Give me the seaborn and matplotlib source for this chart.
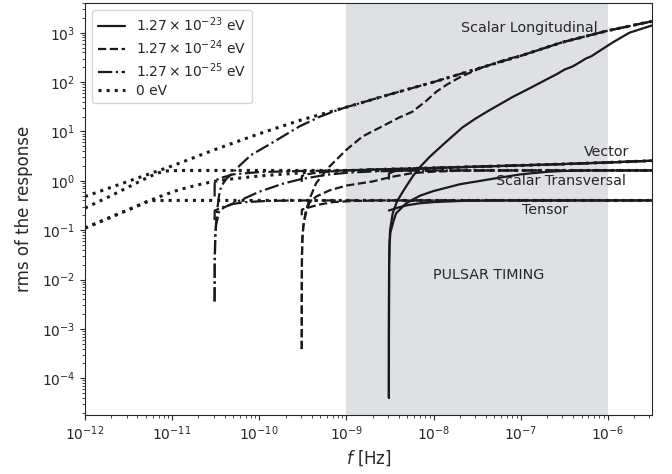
import numpy as np
import pandas as pd
import seaborn as sns
import matplotlib.pyplot as plt

# legend labels, one per graviton mass
mass_labels = [r'$1.27\times10^{-23}$ eV', r'$1.27\times10^{-24}$ eV',
               r'$1.27\times10^{-25}$ eV', '0 eV']

# m = 1.27e-23 eV (solid)
f_sl_23 = [3.07e-9, 3.075e-9, 3.09e-9, 3.12e-9, 3.17e-9, 3.4e-9, 3.8e-9, 4.3e-9, 4.85e-9, 5.8e-9,
           6.9e-9, 9.1e-9, 1.3e-8, 1.65e-8, 2.14e-8, 3e-8, 4.4e-8, 8.1e-8, 1.27e-7, 1.96e-7,
           2.6e-7, 3.2e-7, 3.9e-7, 4.7e-7, 5.6e-7, 6.5e-7, 7.5e-7, 1.13e-6, 1.77e-6, 3.2e-6]
rms_sl_23 = [4e-5, 1e-3, 0.02, 0.05, 0.1, 0.22, 0.38, 0.55, 0.77, 1.25,
             1.85, 3.1, 5.5, 8, 12, 18, 27, 50, 75, 112,
             145, 180, 205, 248, 300, 335, 395, 630, 1000, 1400]
f_st_23 = [3.07e-9, 3.075e-9, 3.09e-9, 3.12e-9, 3.2e-9, 3.5e-9, 3.72e-9, 4.85e-9, 7e-9, 1e-8,
           2e-8, 5.26e-8, 1e-7, 2e-7, 3.04e-7, 6e-7, 3.2e-6]
rms_st_23 = [4e-5, 1e-3, 0.02, 0.05, 0.09, 0.16, 0.22, 0.35, 0.5, 0.62,
             0.85, 1.13, 1.35, 1.52, 1.58, 1.62, 1.62]
f_v_23 = [3.07e-9, 3.08e-9, 3.5e-9, 5e-9, 1e-8, 3e-8, 1e-7, 3e-7, 1e-6, 3.2e-6]
rms_v_23 = [1.1, 1.4, 1.55, 1.7, 1.82, 1.93, 2.05, 2.18, 2.35, 2.55]
f_t_23 = [3.07e-9, 4e-9, 5e-9, 6.9e-9, 1e-8, 2e-8, 5e-8, 3.2e-6]
rms_t_23 = [0.25, 0.29, 0.32, 0.35, 0.37, 0.39, 0.4, 0.4]

# m = 1.27e-24 eV (dashed)
f_sl_24 = [3.07e-10, 3.075e-10, 3.09e-10, 3.12e-10, 3.2e-10, 3.38e-10, 3.76e-10, 4.5e-10, 6.4e-10, 1e-9,
           1.53e-9, 2.2e-9, 3.1e-9, 4e-9, 5.7e-9, 8.3e-9, 1.08e-8, 1.41e-8, 2e-8, 3.4e-8,
           6.9e-8, 1e-7, 3e-7, 1e-6, 3.2e-6]
rms_sl_24 = [3.9e-4, 5e-3, 0.03, 0.07, 0.12, 0.22, 0.42, 0.9, 1.95, 4.25,
             7.9, 11, 15, 19, 25, 42, 64, 88, 125, 190,
             290, 340, 640, 1100, 1700]
f_st_24 = [3.07e-10, 3.075e-10, 3.09e-10, 3.12e-10, 3.2e-10, 3.47e-10, 3.76e-10, 4.5e-10, 6.4e-10, 1e-9,
           2e-9, 3.3e-9, 5.7e-9, 1e-8, 2e-8, 4e-8, 3.2e-6]
rms_st_24 = [3.9e-4, 5e-3, 0.03, 0.06, 0.12, 0.24, 0.36, 0.48, 0.64, 0.8,
             0.97, 1.2, 1.43, 1.53, 1.6, 1.62, 1.62]
f_v_24 = [3.07e-10, 3.08e-10, 3.5e-10, 5e-10, 1e-9, 2e-9, 3e-9, 1e-8, 3e-8, 1e-7, 3e-7, 1e-6, 3.2e-6]
rms_v_24 = [0.95, 1.25, 1.35, 1.5, 1.62, 1.7, 1.72, 1.82, 1.93, 2.05, 2.18, 2.35, 2.55]
f_t_24 = [3.07e-10, 3.08e-10, 4e-10, 4.9e-10, 7e-10, 1.2e-9, 2.5e-9, 3.2e-6]
rms_t_24 = [0.2, 0.26, 0.3, 0.33, 0.37, 0.39, 0.4, 0.4]

# m = 1.27e-25 eV (dash-dot)
f_sl_25 = [3.07e-11, 3.08e-11, 3.12e-11, 3.2e-11, 3.29e-11, 3.45e-11, 3.65e-11, 4.2e-11, 4.93e-11, 5.9e-11,
           8e-11, 1.19e-10, 1.7e-10, 2.88e-10, 5e-10, 8.3e-10, 1e-9, 3e-9, 1e-8, 3e-8,
           1e-7, 3e-7, 1e-6, 3.2e-6]
rms_sl_25 = [3.6e-3, 0.02, 0.07, 0.15, 0.26, 0.5, 0.77, 1.1, 1.43, 2.0,
             3.3, 4.96, 7.2, 12.6, 20, 28, 31, 55, 100, 180,
             340, 640, 1100, 1700]
f_st_25 = [3.07e-11, 3.08e-11, 3.12e-11, 3.2e-11, 3.47e-11, 3.96e-11, 6.4e-11, 1e-10, 1.85e-10, 3e-10,
           5.85e-10, 1e-9, 2e-9, 5e-9, 1e-8, 3.2e-6]
rms_st_25 = [3.6e-3, 0.02, 0.07, 0.13, 0.24, 0.29, 0.42, 0.6, 0.87, 1.08,
             1.32, 1.45, 1.55, 1.6, 1.62, 1.62]
f_v_25 = [3.07e-11, 3.08e-11, 3.5e-11, 5e-11, 1e-10, 3e-10, 1e-9, 3e-9, 1e-8, 3e-8, 1e-7, 3e-7, 1e-6, 3.2e-6]
rms_v_25 = [0.48, 1.0, 1.12, 1.35, 1.5, 1.58, 1.62, 1.72, 1.82, 1.93, 2.05, 2.18, 2.35, 2.55]
f_t_25 = [3.07e-11, 3.08e-11, 4e-11, 5e-11, 7e-11, 1.2e-10, 2.5e-10, 3.2e-6]
rms_t_25 = [0.16, 0.25, 0.3, 0.34, 0.37, 0.39, 0.4, 0.4]

# massless (dotted)
f_sl_0 = [1e-12, 3e-12, 1e-11, 3e-11, 1e-10, 3e-10, 1e-9, 3e-9, 1e-8, 3e-8, 1e-7, 3e-7, 1e-6, 3.2e-6]
rms_sl_0 = [0.48, 0.95, 2.0, 4.2, 9.0, 17, 31, 55, 100, 180, 340, 640, 1100, 1700]
f_st_0 = [1e-12, 2e-12, 3.5e-12, 5.5e-12, 7e-12, 8.6e-12, 1.2e-11, 3.2e-6]
rms_st_0 = [0.28, 0.5, 0.82, 1.22, 1.45, 1.58, 1.62, 1.62]
f_v_0 = [1e-12, 2e-12, 3e-12, 4e-12, 5e-12, 7e-12, 1.2e-11, 2e-11, 3e-11, 5e-11,
         1e-10, 3e-10, 1e-9, 3e-9, 1e-8, 3e-8, 1e-7, 3e-7, 1e-6, 3.2e-6]
rms_v_0 = [0.11, 0.185, 0.25, 0.31, 0.37, 0.47, 0.66, 0.83, 0.97, 1.1,
           1.25, 1.45, 1.6, 1.72, 1.82, 1.93, 2.05, 2.18, 2.35, 2.55]
f_t_0 = [1e-12, 2e-12, 3e-12, 4e-12, 5e-12, 6e-12, 8e-12, 3.2e-6]
rms_t_0 = [0.11, 0.185, 0.25, 0.31, 0.37, 0.395, 0.4, 0.4]

sns.set_style('ticks')
plt.rcParams['font.family'] = ['DejaVu Sans']

fig, ax = plt.subplots(figsize=(6.72, 4.74), dpi=100)
fig.subplots_adjust(left=0.1265, right=0.970, top=0.9937, bottom=0.1245)

ax.axvspan(1e-9, 1e-6, color='#dfe0e3', zorder=0, lw=0)

groups = [
    ('-', 1.6, [(f_t_23, rms_t_23), (f_v_23, rms_v_23), (f_st_23, rms_st_23), (f_sl_23, rms_sl_23)]),
    ('--', 1.6, [(f_t_24, rms_t_24), (f_v_24, rms_v_24), (f_st_24, rms_st_24), (f_sl_24, rms_sl_24)]),
    ('-.', 1.6, [(f_t_25, rms_t_25), (f_v_25, rms_v_25), (f_st_25, rms_st_25), (f_sl_25, rms_sl_25)]),
    (':', 2.2, [(f_t_0, rms_t_0), (f_v_0, rms_v_0), (f_st_0, rms_st_0), (f_sl_0, rms_sl_0)]),
]
for k, (ls, lw, curves) in enumerate(groups):
    for j, (f, rms) in enumerate(curves):
        sns.lineplot(x=f, y=rms, ax=ax, color='#1a1a1a', linestyle=ls, lw=lw,
                     estimator=None, sort=False,
                     label=mass_labels[k] if j == 0 else None)

ax.set_xscale('log')
ax.set_yscale('log')
ax.set_xlim(1e-12, 3.2e-6)
ax.set_ylim(1.8e-5, 4.0e3)

ax.text(1.27e-7, 1250, 'Scalar Longitudinal', ha='center', va='center', fontsize=10.3)
ax.text(9.75e-7, 3.82, 'Vector', ha='center', va='center', fontsize=10.3)
ax.text(2.9e-7, 1.0, 'Scalar Transversal', ha='center', va='center', fontsize=10.3)
ax.text(1.89e-7, 0.258, 'Tensor', ha='center', va='center', fontsize=10.3)
ax.text(4.3e-8, 0.0125, 'PULSAR TIMING', ha='center', va='center', fontsize=10.3)

ax.set_xlabel('$f$ [Hz]', fontsize=12)
ax.set_ylabel('rms of the response', fontsize=12, labelpad=6)
ax.tick_params(labelsize=10)
ax.legend(loc='upper left', fontsize=10, labelspacing=0.3)

plt.savefig('out.png', dpi=100)
